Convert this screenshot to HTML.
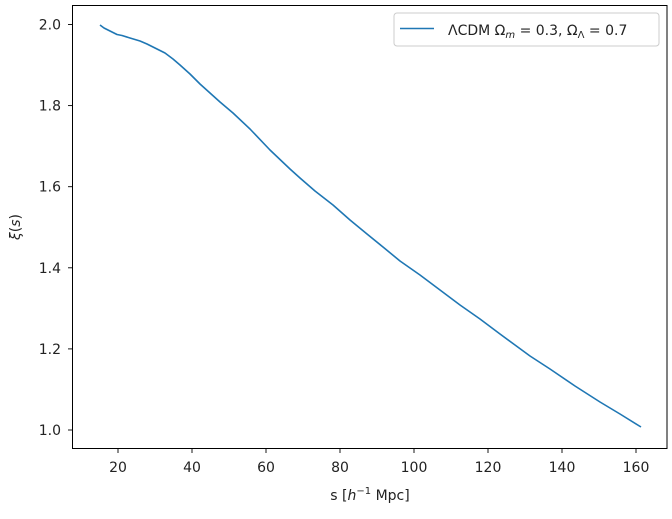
<!DOCTYPE html>
<html><head><meta charset="utf-8"><style>
body{margin:0;background:#fff}
svg{display:block;font-family:"DejaVu Sans","Liberation Sans",sans-serif}
</style></head><body>
<svg width="672" height="519" xmlns="http://www.w3.org/2000/svg">
<rect width="672" height="519" fill="#fff"/>
<path d="M100,25 L104,28 L108,30 L112,32 L117,34.5 L122,35.5 L130,38 L140,41 L147,44 L155,48 L165,53 L173,59 L180,65 L190,74 L200,84 L210,93 L220,102 L233,113 L250,129 L270,150 L290,169 L300,178 L315,191 L333,205 L350,220 L367,234 L383,247 L400,261 L420,275 L440,290 L460,305 L480,319 L500,334 L515,345 L530,356 L550,369 L575,386 L600,402 L620,414 L641,427" fill="none" stroke="#1f77b4" stroke-width="1.6" stroke-linejoin="round"/>
<rect x="72.5" y="5.5" width="594.5" height="443" fill="none" stroke="#000" stroke-width="1"/>
<g stroke="#000" stroke-width="0.9">
<line x1="68" y1="24.5" x2="72.5" y2="24.5"/><line x1="68" y1="105.6" x2="72.5" y2="105.6"/><line x1="68" y1="186.7" x2="72.5" y2="186.7"/><line x1="68" y1="267.8" x2="72.5" y2="267.8"/><line x1="68" y1="348.9" x2="72.5" y2="348.9"/><line x1="68" y1="430" x2="72.5" y2="430"/>
<line x1="118" y1="448.5" x2="118" y2="453"/><line x1="192" y1="448.5" x2="192" y2="453"/><line x1="266" y1="448.5" x2="266" y2="453"/><line x1="340" y1="448.5" x2="340" y2="453"/><line x1="414" y1="448.5" x2="414" y2="453"/><line x1="488" y1="448.5" x2="488" y2="453"/><line x1="562" y1="448.5" x2="562" y2="453"/><line x1="636" y1="448.5" x2="636" y2="453"/>
</g>
<g font-size="14" fill="#222" text-anchor="end">
<text x="61" y="29.5">2.0</text><text x="61" y="110.6">1.8</text><text x="61" y="191.7">1.6</text><text x="61" y="272.8">1.4</text><text x="61" y="353.9">1.2</text><text x="61" y="435">1.0</text>
</g>
<g font-size="14" fill="#222" text-anchor="middle">
<text x="118" y="472">20</text><text x="192" y="472">40</text><text x="266" y="472">60</text><text x="340" y="472">80</text><text x="414" y="472">100</text><text x="488" y="472">120</text><text x="562" y="472">140</text><text x="636" y="472">160</text>
<text x="370" y="500">s [<tspan font-style="italic">h</tspan><tspan font-size="10" dy="-6">−1</tspan><tspan dy="6"> Mpc]</tspan></text>
</g>
<text transform="translate(20,227) rotate(-90)" font-size="14" fill="#222" text-anchor="middle"><tspan font-style="italic">ξ</tspan>(<tspan font-style="italic">s</tspan>)</text>
<rect x="394" y="13" width="265" height="33" rx="3" fill="#fff" stroke="#ccc"/>
<line x1="400" y1="28.5" x2="434" y2="28.5" stroke="#1f77b4" stroke-width="1.6"/>
<text x="448" y="35" font-size="14" fill="#222">ΛCDM Ω<tspan font-style="italic" font-size="10" dy="3">m</tspan><tspan dy="-3"> = 0.3, Ω</tspan><tspan font-size="10" dy="3">Λ</tspan><tspan dy="-3"> = 0.7</tspan></text>
</svg>
</body></html>
